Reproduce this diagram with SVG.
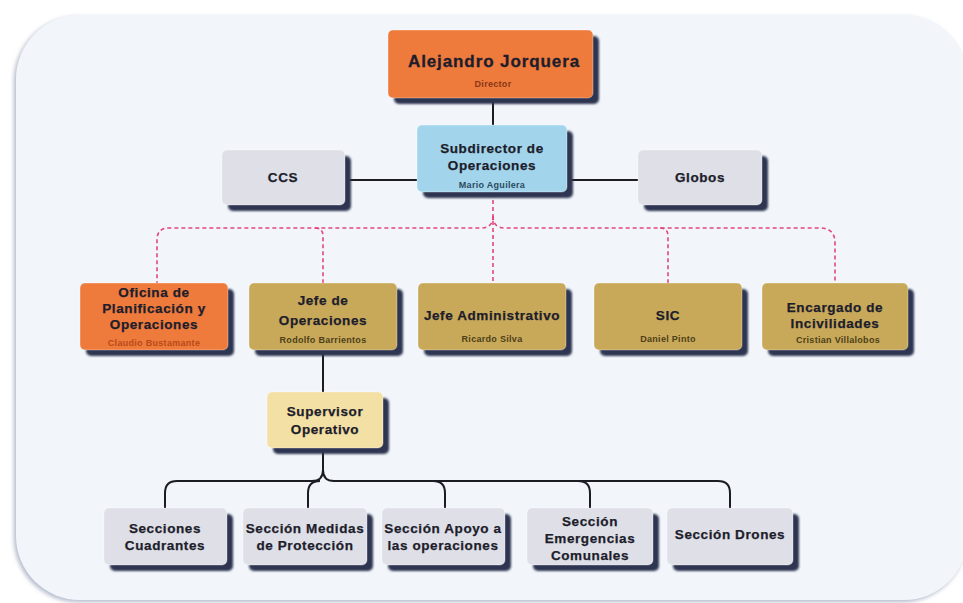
<svg xmlns="http://www.w3.org/2000/svg" width="963" height="603" viewBox="0 0 963 603">
  <defs>
    <filter id="soft" x="-10%" y="-10%" width="120%" height="130%">
      <feGaussianBlur stdDeviation="0.9"/>
    </filter>
    <filter id="cardShadow" x="-5%" y="-5%" width="110%" height="110%">
      <feGaussianBlur stdDeviation="2"/>
    </filter>
  </defs>
  <style>
    .shadow { fill: #2e3651; filter: url(#soft); }
    .box { stroke: rgba(255,255,255,0.35); stroke-width: 1; }
    .orange { fill: #ee7a3c; }
    .blue { fill: #a2d5ec; }
    .gray { fill: #dedfe7; }
    .olive { fill: #c8a95a; }
    .yellow { fill: #f3e0a4; }
    text { font-family: "Liberation Sans", Arial, sans-serif; text-anchor: middle; }
    .t { font-weight: bold; font-size: 13.5px; fill: #1d1d2b; letter-spacing: 0.6px; stroke: #1d1d2b; stroke-width: 0.25px; }
    .big { font-weight: bold; font-size: 17px; fill: #1d1d2b; letter-spacing: 0.9px; stroke: #1d1d2b; stroke-width: 0.3px; }
    .s { font-size: 9px; font-weight: bold; letter-spacing: 0.3px; }
    .s-or { fill: #8a3614; }
    .s-bl { fill: #2c4a5e; }
    .s-ol { fill: #4d3f17; }
    .s-or2 { fill: #b84a16; }
    .solid { fill: none; stroke: #1c1c24; stroke-width: 2; }
    .dash { fill: none; stroke: #e4467c; stroke-width: 1.6; stroke-dasharray: 4 3; }
  </style>

  <!-- page card -->
  <rect x="0" y="0" width="963" height="603" fill="#ffffff"/>
  <rect x="14" y="17" width="952" height="585" rx="64" fill="#b3bacb" filter="url(#cardShadow)"/>
  <rect x="16" y="15" width="952" height="585" rx="64" fill="#f2f6fb"/>

  <!-- connectors -->
  <g id="connectors">
    <path class="solid" d="M493,98 V126"/>
    <path class="solid" d="M345,180 H418"/>
    <path class="solid" d="M567,180 H639"/>
    <path class="dash" d="M493,193 V283"/>
    <path class="dash" d="M493,216 Q493,228 481,228 H169 Q157,228 157,240 V283"/>
    <path class="dash" d="M493,216 Q493,228 505,228 H820 Q835,228 835,243 V283"/>
    <path class="dash" d="M315,228 Q323,228 323,236 V283"/>
    <path class="dash" d="M660,228 Q668,228 668,236 V283"/>
    <path class="solid" d="M323,350 V393"/>
    <path class="solid" d="M323,448 V470 Q323,481 312,481 H177 Q165,481 165,493 V508"/>
    <path class="solid" d="M323,470 Q323,481 334,481 H718 Q730,481 730,493 V508"/>
    <path class="solid" d="M308,508 V493 Q308,481 320,481"/>
    <path class="solid" d="M433,481 Q445,481 445,493 V508"/>
    <path class="solid" d="M578,481 Q590,481 590,493 V508"/>
  </g>

  <!-- level 0 -->
  <g id="director">
    <rect class="shadow" x="394" y="36" width="205" height="68" rx="5"/>
    <rect class="box orange" x="388" y="30" width="205" height="68" rx="5"/>
    <text class="big" x="494" y="67">Alejandro Jorquera</text>
    <text class="s s-or" x="493" y="87">Director</text>
  </g>

  <!-- level 1 -->
  <g id="subdirector">
    <rect class="shadow" x="423" y="131" width="150" height="67" rx="5"/>
    <rect class="box blue" x="417" y="125" width="150" height="67" rx="5"/>
    <text class="t" x="492" y="153">Subdirector de</text>
    <text class="t" x="492" y="170">Operaciones</text>
    <text class="s s-bl" x="492" y="188">Mario Aguilera</text>
  </g>
  <g id="ccs">
    <rect class="shadow" x="228" y="156" width="123" height="55" rx="5"/>
    <rect class="box gray" x="222" y="150" width="123" height="55" rx="5"/>
    <text class="t" x="283" y="182">CCS</text>
  </g>
  <g id="globos">
    <rect class="shadow" x="644" y="156" width="124" height="55" rx="5"/>
    <rect class="box gray" x="638" y="150" width="124" height="55" rx="5"/>
    <text class="t" x="700" y="182">Globos</text>
  </g>

  <!-- level 2 -->
  <g id="oficina">
    <rect class="shadow" x="86" y="289" width="148" height="67" rx="5"/>
    <rect class="box orange" x="80" y="283" width="148" height="67" rx="5"/>
    <text class="t" x="154" y="297">Oficina de</text>
    <text class="t" x="154" y="313">Planificación y</text>
    <text class="t" x="154" y="329">Operaciones</text>
    <text class="s s-or2" x="154" y="346">Claudio Bustamante</text>
  </g>
  <g id="jefe-operaciones">
    <rect class="shadow" x="255" y="289" width="148" height="67" rx="5"/>
    <rect class="box olive" x="249" y="283" width="148" height="67" rx="5"/>
    <text class="t" x="323" y="305">Jefe de</text>
    <text class="t" x="323" y="325">Operaciones</text>
    <text class="s s-ol" x="323" y="343">Rodolfo Barrientos</text>
  </g>
  <g id="jefe-administrativo">
    <rect class="shadow" x="424" y="289" width="148" height="67" rx="5"/>
    <rect class="box olive" x="418" y="283" width="148" height="67" rx="5"/>
    <text class="t" x="492" y="320">Jefe Administrativo</text>
    <text class="s s-ol" x="492" y="342">Ricardo Silva</text>
  </g>
  <g id="sic">
    <rect class="shadow" x="600" y="289" width="148" height="67" rx="5"/>
    <rect class="box olive" x="594" y="283" width="148" height="67" rx="5"/>
    <text class="t" x="668" y="320">SIC</text>
    <text class="s s-ol" x="668" y="342">Daniel Pinto</text>
  </g>
  <g id="incivilidades">
    <rect class="shadow" x="768" y="289" width="146" height="67" rx="5"/>
    <rect class="box olive" x="762" y="283" width="146" height="67" rx="5"/>
    <text class="t" x="835" y="312">Encargado de</text>
    <text class="t" x="835" y="328">Incivilidades</text>
    <text class="s s-ol" x="838" y="343">Cristian Villalobos</text>
  </g>

  <!-- level 3 -->
  <g id="supervisor">
    <rect class="shadow" x="273" y="398" width="116" height="56" rx="5"/>
    <rect class="box yellow" x="267" y="392" width="116" height="56" rx="5"/>
    <text class="t" x="325" y="416">Supervisor</text>
    <text class="t" x="325" y="434">Operativo</text>
  </g>

  <!-- level 4 -->
  <g id="cuadrantes">
    <rect class="shadow" x="110" y="514" width="123" height="57" rx="5"/>
    <rect class="box gray" x="104" y="508" width="123" height="57" rx="5"/>
    <text class="t" x="165" y="533">Secciones</text>
    <text class="t" x="165" y="550">Cuadrantes</text>
  </g>
  <g id="medidas">
    <rect class="shadow" x="249" y="514" width="124" height="57" rx="5"/>
    <rect class="box gray" x="243" y="508" width="124" height="57" rx="5"/>
    <text class="t" x="305" y="533">Sección Medidas</text>
    <text class="t" x="305" y="550">de Protección</text>
  </g>
  <g id="apoyo">
    <rect class="shadow" x="388" y="514" width="123" height="57" rx="5"/>
    <rect class="box gray" x="382" y="508" width="123" height="57" rx="5"/>
    <text class="t" x="443" y="533">Sección Apoyo a</text>
    <text class="t" x="443" y="550">las operaciones</text>
  </g>
  <g id="emergencias">
    <rect class="shadow" x="533" y="514" width="126" height="57" rx="5"/>
    <rect class="box gray" x="527" y="508" width="126" height="57" rx="5"/>
    <text class="t" x="590" y="526">Sección</text>
    <text class="t" x="590" y="543">Emergencias</text>
    <text class="t" x="590" y="560">Comunales</text>
  </g>
  <g id="drones">
    <rect class="shadow" x="673" y="514" width="126" height="57" rx="5"/>
    <rect class="box gray" x="667" y="508" width="126" height="57" rx="5"/>
    <text class="t" x="730" y="539">Sección Drones</text>
  </g>
</svg>
